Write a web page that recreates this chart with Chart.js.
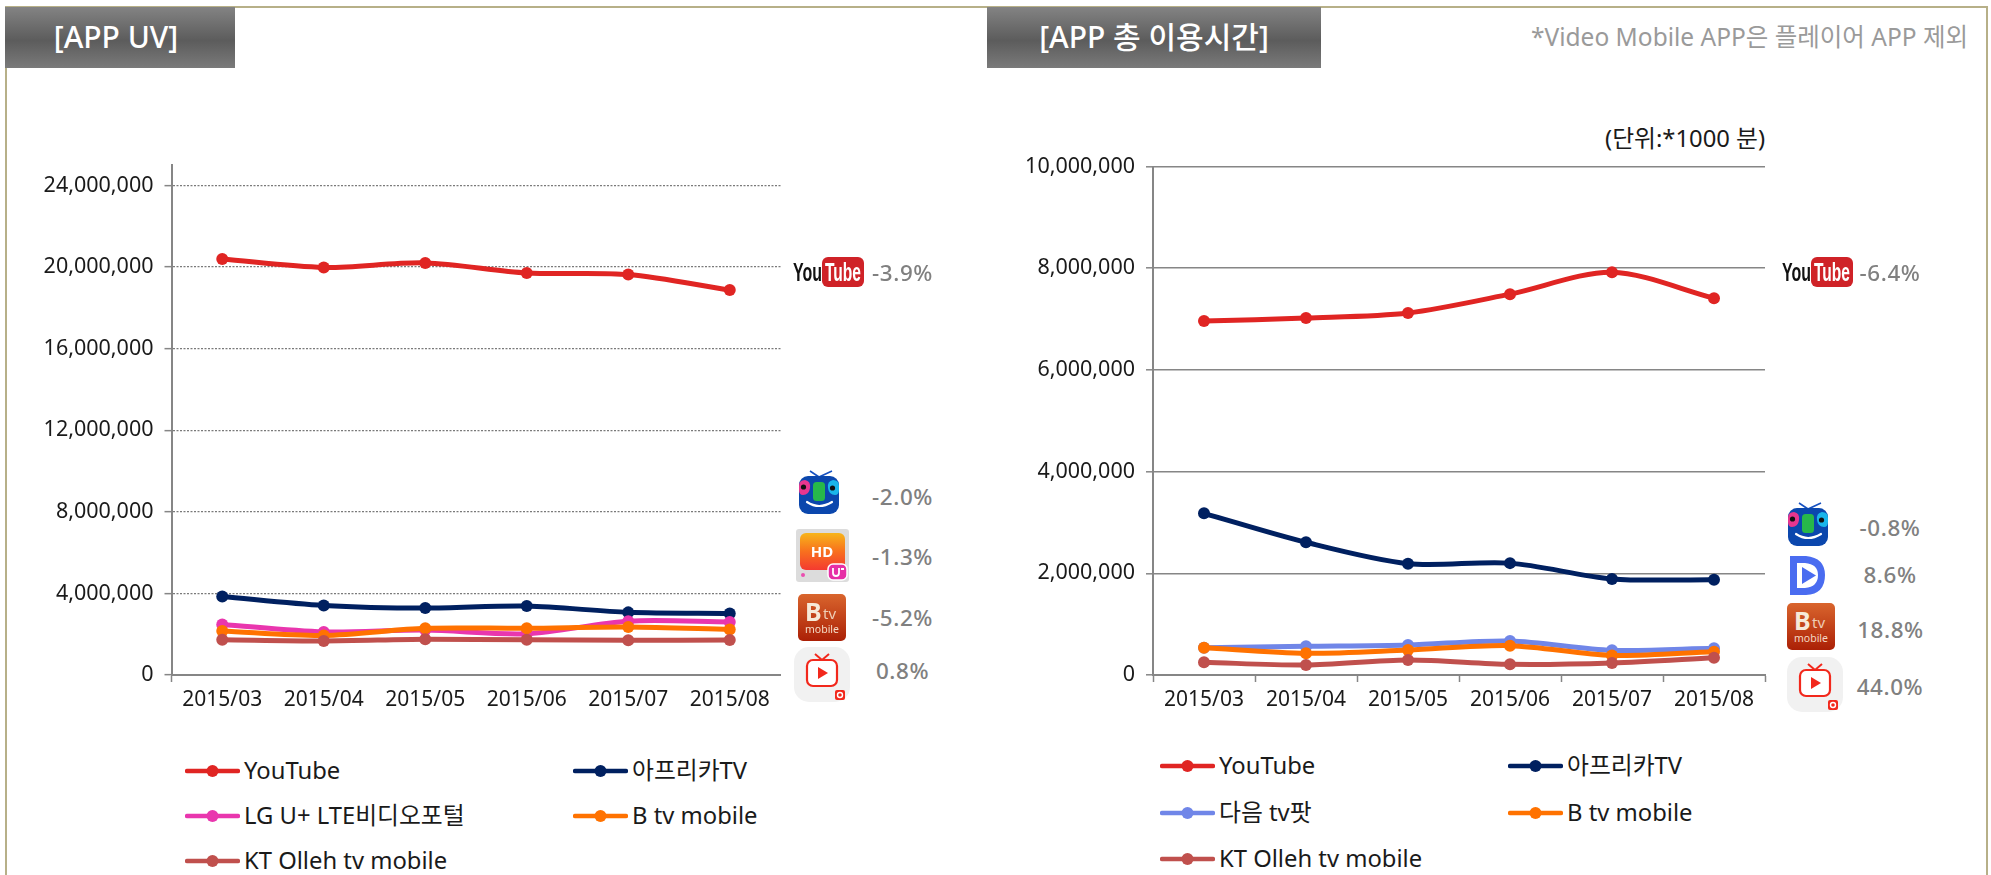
<!DOCTYPE html>
<html lang="ko"><head><meta charset="utf-8">
<script src="https://cdn.jsdelivr.net/npm/chart.js@4"></script>
<style>
html,body{margin:0;padding:0;background:#fff;overflow:hidden}
body{width:1991px;height:875px;position:relative;font-family:"Noto Sans","Noto Sans CJK KR",sans-serif}
.abs{position:absolute;white-space:nowrap}
#frame{left:5px;top:6px;width:1983px;height:900px;border:2px solid #b7b088;box-sizing:border-box}
.tab{top:7px;height:61px;background:linear-gradient(#838383 0%,#5c5c5c 55%,#7a7a7a 100%);color:#fff;font-size:30px;font-weight:500;line-height:60px;text-align:center}
.pct{color:#808080;font-size:22.4px;font-weight:500;letter-spacing:.6px;transform:translate(-50%,-50%)}
.leg{font-size:23.8px;color:#1a1a1a;line-height:30px;transform:translateY(-50%)}
canvas{position:absolute}
</style></head><body>
<div class="abs" id="frame"></div>
<div class="abs tab" style="left:5px;width:222px;padding-right:8px">[APP UV]</div>
<div class="abs tab" style="left:987px;width:334px">[APP 총 이용시간]</div>
<div class="abs" style="left:1531px;top:20px;font-size:24.5px;color:#9a9a9a;line-height:34px;">*Video Mobile APP은 플레이어 APP 제외</div>
<div class="abs" style="left:1605px;top:123px;font-size:23.8px;color:#1a1a1a;line-height:30px;">(단위:*1000 분)</div>
<canvas id="uv" style="left:0;top:0"></canvas>
<canvas id="time" style="left:985px;top:0"></canvas>
<script>
const categories = ["2015/03","2015/04","2015/05","2015/06","2015/07","2015/08"];

const uvYouTube = [20390000,19980000,20200000,19710000,19630000,18870000];
const uvAfreeca = [3850000,3410000,3280000,3380000,3070000,3010000];
const uvLG      = [2480000,2110000,2200000,2020000,2640000,2600000];
const uvBtv     = [2160000,1940000,2290000,2290000,2350000,2230000];
const uvOlleh   = [1730000,1670000,1750000,1730000,1700000,1714000];

const timeYouTube = [6960000,7020000,7120000,7490000,7920000,7410000];
const timeAfreeca = [3180000,2610000,2190000,2200000,1890000,1875000];
const timeDaum    = [538000,564000,590000,669000,486000,525000];
const timeBtv     = [538000,427000,492000,577000,385000,457000];
const timeOlleh   = [250000,197000,295000,210000,236000,340000];

const uvTicks = [0,4000000,8000000,12000000,16000000,20000000,24000000];
const timeTicks = [0,2000000,4000000,6000000,8000000,10000000];
const uvMax = 25000000, timeMax = 10000000;

const uvNames = ["YouTube","아프리카TV","LG U+ LTE비디오포털","B tv mobile","KT Olleh tv mobile"];
const timeNames = ["YouTube","아프리카TV","다음 tv팟","B tv mobile","KT Olleh tv mobile"];
const uvChange = ["-3.9%","-2.0%","-1.3%","-5.2%","0.8%"];
const timeChange = ["-6.4%","-0.8%","8.6%","18.8%","44.0%"];

const RED="#E02523",NAVY="#002060",PINK="#E936AE",ORANGE="#FF7200",BRICK="#C0504D",BLUE="#7086E8";
const FONT='"Noto Sans","Noto Sans CJK KR",sans-serif';
const AXIS="#868686";

function ds(name,data,color,i,n){
  return {label:name,data,borderColor:color,backgroundColor:color,pointBackgroundColor:color,pointBorderColor:color,
    borderWidth:5,pointRadius:6,pointBorderWidth:0,tension:0.3,fill:false,order:n-i,clip:false};
}
function makeChart(id,w,h,plotL,plotT,plotR,plotB,datasets,max,tickVals,opt){
  const c=document.getElementById(id);c.width=w;c.height=h;c.style.width=w+'px';c.style.height=h+'px';
  return new Chart(c,{type:'line',data:{labels:categories,datasets},options:{
    responsive:false,animation:false,devicePixelRatio:1,
    layout:{padding:{left:0,top:plotT,right:w-plotR,bottom:0}},
    plugins:{legend:{display:false},tooltip:{enabled:false},title:{display:false}},
    scales:{
      x:{type:'category',offset:true,
        afterFit(s){s.height=h-plotB;},
        border:{color:AXIS,width:2},
        grid:{display:true,offset:true,drawOnChartArea:false,drawTicks:true,tickLength:7,tickWidth:1.5,tickColor:opt.xTick},
        ticks:{color:"#1a1a1a",font:{family:FONT,size:21},padding:5,maxRotation:0,autoSkip:false}},
      y:{min:0,max,
        afterFit(s){s.width=plotL;},
        afterBuildTicks(s){s.ticks=tickVals.map(v=>({value:v}));},
        border:{color:AXIS,width:2,dash:opt.gridDash},
        grid:{color:opt.gridColor,lineWidth:opt.gridWidth,tickColor:AXIS,tickWidth:1.5,tickLength:7,tickBorderDash:[],drawTicks:true},
        ticks:{color:"#1a1a1a",font:{family:FONT,size:21.5},padding:11,
          callback:v=>Number(v).toLocaleString('en-US')}}
    }}});
}
makeChart('uv',800,730,171.5,165,780.5,675,
  [ds(uvNames[0],uvYouTube,RED,0,5),ds(uvNames[1],uvAfreeca,NAVY,1,5),ds(uvNames[2],uvLG,PINK,2,5),ds(uvNames[3],uvBtv,ORANGE,3,5),ds(uvNames[4],uvOlleh,BRICK,4,5)],
  uvMax,uvTicks,{gridDash:[2,1.5],gridColor:"#7a7a7a",gridWidth:1.3,xTick:c=>c.index===0?AXIS:'rgba(0,0,0,0)'});
makeChart('time',800,730,168,166.5,780,675,
  [ds(timeNames[0],timeYouTube,RED,0,5),ds(timeNames[1],timeAfreeca,NAVY,1,5),ds(timeNames[2],timeDaum,BLUE,2,5),ds(timeNames[3],timeBtv,ORANGE,3,5),ds(timeNames[4],timeOlleh,BRICK,4,5)],
  timeMax,timeTicks,{gridDash:[],gridColor:AXIS,gridWidth:1.6,xTick:AXIS});

/* right-hand captions and icons */
let uid=0;
function svgBox(x,y,w,h,vb,inner){
  const d=document.createElement('div');d.className='abs';
  d.style.cssText=`left:${x}px;top:${y}px;width:${w}px;height:${h}px`;
  d.innerHTML=`<svg width="${w}" height="${h}" viewBox="${vb}" xmlns="http://www.w3.org/2000/svg">${inner}</svg>`;
  document.body.appendChild(d);
}
function iconYT(x,y){svgBox(x,y,71,30,"0 0 71 30",`
  <text x="0" y="24" font-family="Liberation Sans Narrow,Liberation Sans" font-weight="700" font-size="25" fill="#111" textLength="29" lengthAdjust="spacingAndGlyphs">You</text>
  <rect x="29" y="0" width="42" height="30" rx="6" fill="#cf2227"/>
  <text x="32" y="24" font-family="Liberation Sans Narrow,Liberation Sans" font-weight="700" font-size="25" fill="#fff" textLength="36" lengthAdjust="spacingAndGlyphs">Tube</text>`);}
function iconFace(x,y){svgBox(x,y,40,45,"0 0 40 45",`
  <path d="M11 1 L20 7 L33 1" stroke="#1550c0" stroke-width="1.6" fill="none"/>
  <rect x="0" y="6" width="40" height="38" rx="9" fill="#0b47ad"/>
  <path d="M0 16 Q0 10 6 10 Q12 11 11 18 Q10 25 4 25 Q0 25 0 20Z" fill="#e8368f"/>
  <path d="M40 16 Q40 10 34 10 Q28 11 29 18 Q30 25 36 25 Q40 25 40 20Z" fill="#1ab6ea"/>
  <rect x="14" y="12" width="12" height="19" rx="3.5" fill="#27b84a"/>
  <circle cx="4.5" cy="17" r="2.6" fill="#111"/><circle cx="33.5" cy="18" r="2.6" fill="#111"/>
  <path d="M8 32 Q20 40 33 32" stroke="#fff" stroke-width="2.2" fill="none" stroke-linecap="round"/>`);}
function iconHD(x,y){const u=++uid;svgBox(x,y,53,53,"0 0 53 53",`
  <defs><linearGradient id="hd${u}" x1="0" y1="0" x2="0" y2="1"><stop offset="0" stop-color="#f7b51a"/><stop offset=".5" stop-color="#f8701e"/><stop offset="1" stop-color="#f43a30"/></linearGradient></defs>
  <rect width="53" height="53" rx="3" fill="#dcdcdc"/>
  <rect x="4" y="4" width="45" height="37" rx="6" fill="url(#hd${u})"/>
  <text x="26" y="28" text-anchor="middle" font-family="Noto Sans" font-weight="700" font-size="15" fill="#fff">HD</text>
  <circle cx="7" cy="46" r="2" fill="#ea4fb0"/>
  <rect x="32" y="35" width="19" height="16" rx="5" fill="#e62fa6" stroke="#fff" stroke-width="1.5"/>
  <path d="M37 39 v5 q0 3 3 3 q3 0 3 -3 v-5 M45 40 h3" stroke="#fff" stroke-width="1.8" fill="none"/>`);}
function iconBtv(x,y){const u=++uid;svgBox(x,y,48,47,"0 0 48 47",`
  <defs><linearGradient id="bt${u}" x1="0" y1="0" x2="0" y2="1"><stop offset="0" stop-color="#d9652d"/><stop offset="1" stop-color="#ab2006"/></linearGradient></defs>
  <rect width="48" height="47" rx="5" fill="url(#bt${u})"/>
  <text x="7" y="27" font-family="Noto Sans" font-weight="700" font-size="25" fill="#f6ead8">B</text>
  <text x="25" y="25" font-family="Noto Sans" font-size="15" fill="#eecdb5">tv</text>
  <text x="24" y="39" text-anchor="middle" font-family="Noto Sans" font-size="10.5" fill="#f4d9c5">mobile</text>`);}
function iconOlleh(x,y){svgBox(x,y,56,55,"0 0 56 55",`
  <rect width="56" height="55" rx="15" fill="#f1f1f1"/>
  <path d="M21 7 L28 13 L35 7" stroke="#f2281c" stroke-width="2" fill="none"/>
  <rect x="13" y="13" width="30" height="26" rx="6" fill="#fff" stroke="#f2281c" stroke-width="2.2"/>
  <path d="M24 20 L34 26 L24 32Z" fill="#f2281c"/>
  <rect x="41" y="43" width="10" height="10" rx="2" fill="#f2281c"/><circle cx="46" cy="48" r="2.5" fill="none" stroke="#fff" stroke-width="1.4"/>`);}
function iconDaum(x,y){svgBox(x,y,39,43,"0 0 39 43",`
  <path d="M2 2 H18 Q37 4 37 21 Q37 40 18 41 H2 Z M9 9 V34 H17 Q30 33 30 21 Q30 10 17 9 Z" fill="#4a6cf0" fill-rule="evenodd"/>
  <path d="M14 13 L28 21.5 L14 30 Z" fill="#4a6cf0"/>`);}

function pct(cx,cy,t){const d=document.createElement('div');d.className='abs pct';d.style.left=cx+'px';d.style.top=cy+'px';d.textContent=t;document.body.appendChild(d);}
iconYT(793,257);iconFace(799,470);iconHD(796,529);iconBtv(798,594);iconOlleh(794,647);
[[902.5,272],[902.5,496],[902.5,556],[902.5,617],[902.5,670]].forEach((p,i)=>pct(p[0],p[1],uvChange[i]));
iconYT(1782,257);iconFace(1788,502);iconDaum(1788,554);iconBtv(1787,603);iconOlleh(1787,657);
[[1890,272],[1890,527],[1890,574],[1890.5,629],[1890,686]].forEach((p,i)=>pct(p[0],p[1],timeChange[i]));

/* legends */
function legend(names,colors,slots){
  names.forEach((n,i)=>{
    const [x,y]=slots[i];
    svgBox(x,y-8,55,16,"0 0 55 16",`<line x1="2" y1="8" x2="53" y2="8" stroke="${colors[i]}" stroke-width="4.5" stroke-linecap="round"/><circle cx="27.5" cy="8" r="6" fill="${colors[i]}"/>`);
    const d=document.createElement('div');d.className='abs leg';d.style.left=(x+59)+'px';d.style.top=y+'px';d.textContent=n;document.body.appendChild(d);
  });
}
legend(uvNames,[RED,NAVY,PINK,ORANGE,BRICK],[[185,770],[573,770],[185,815],[573,815],[185,860]]);
legend(timeNames,[RED,NAVY,BLUE,ORANGE,BRICK],[[1160,765],[1508,765],[1160,812],[1508,812],[1160,858]]);
</script>
</body></html>
